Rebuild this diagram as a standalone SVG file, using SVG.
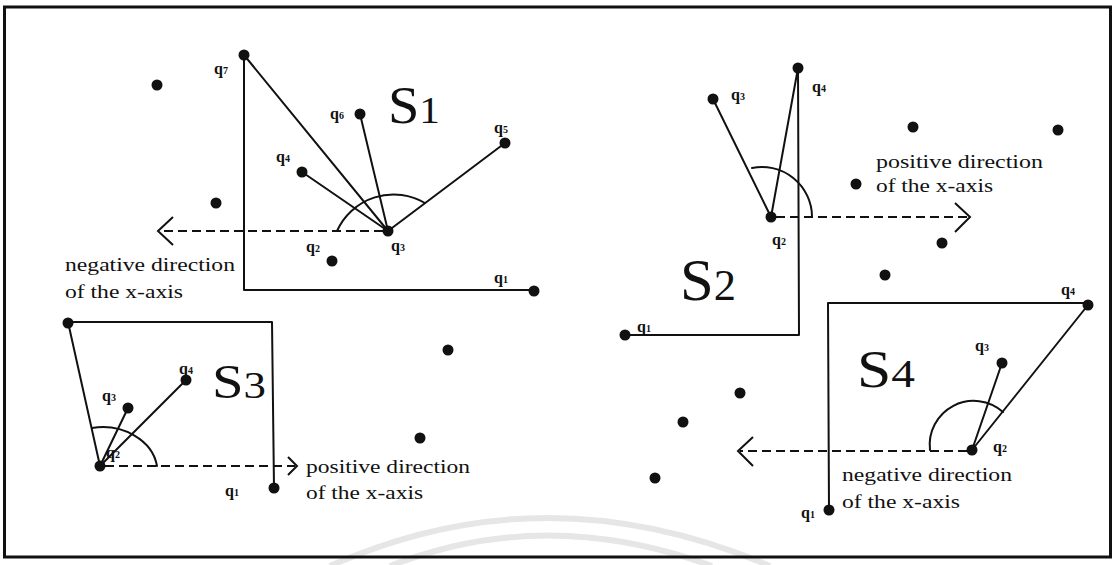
<svg xmlns="http://www.w3.org/2000/svg" width="1118" height="565" viewBox="0 0 1118 565">
<style>
.ln{stroke:#111;stroke-width:2;fill:none;stroke-linecap:round;stroke-linejoin:round}
.ds{stroke:#111;stroke-width:2;fill:none;stroke-dasharray:9 5}
.ch{stroke:#111;stroke-width:2;fill:none;stroke-linejoin:miter}
.dot{fill:#111}
.ql{font-family:"Liberation Serif",serif;font-weight:bold;font-size:16px;fill:#111}
.ql tspan{font-size:10px}
.tx{font-family:"Liberation Serif",serif;font-size:18px;fill:#111}
.big{font-family:"Liberation Serif",serif;fill:#111}
.wm{stroke:#e6e6e6;stroke-width:6;fill:none}
</style>
<rect width="1118" height="565" fill="#fff"/>
<g id="watermark">
<path class="wm" d="M 330 566 Q 545 470 770 566"/>
<path class="wm" d="M 390 566 Q 545 505 712 566"/>
</g>
<rect x="4.5" y="7" width="1106" height="550" fill="none" stroke="#111" stroke-width="3"/>
<g id="connectors">
<!-- S1 -->
<polyline class="ln" points="244,55 244,290 534,290"/>
<line class="ln" x1="388" y1="231" x2="244" y2="55"/>
<line class="ln" x1="388" y1="231" x2="360" y2="114"/>
<line class="ln" x1="388" y1="231" x2="302" y2="172"/>
<line class="ln" x1="388" y1="231" x2="505" y2="143"/>
<path class="ln" d="M 337 231 A 62 62 0 0 1 425 203"/>
<line class="ds" x1="383" y1="231" x2="160" y2="231"/>
<polyline class="ch" points="173,217 158,231 173,245"/>
<!-- S2 -->
<polyline class="ln" points="798,68 799,335 625,335"/>
<line class="ln" x1="771" y1="217" x2="713" y2="99"/>
<line class="ln" x1="771" y1="217" x2="798" y2="68"/>
<path class="ln" d="M 752 168 A 50 50 0 0 1 812 216"/>
<line class="ds" x1="776" y1="217" x2="968" y2="217"/>
<polyline class="ch" points="955,203 970,217 955,232"/>
<!-- S3 -->
<polyline class="ln" points="274,488 272,322 68,322 100,466"/>
<line class="ln" x1="100" y1="466" x2="128" y2="408"/>
<line class="ln" x1="100" y1="466" x2="186" y2="380"/>
<path class="ln" d="M 92 428 A 55 45 0 0 1 157 466"/>
<line class="ds" x1="105" y1="466" x2="295" y2="466"/>
<polyline class="ch" points="288,457 297,466 288,475"/>
<!-- S4 -->
<polyline class="ln" points="829,510 828,303 1088,303"/>
<line class="ln" x1="972" y1="450" x2="1002" y2="363"/>
<line class="ln" x1="972" y1="450" x2="1088" y2="305"/>
<path class="ln" d="M 930 450 A 44 44 0 0 1 1003 412"/>
<line class="ds" x1="967" y1="451" x2="740" y2="451"/>
<polyline class="ch" points="753,437 738,451 753,466"/>
</g>
<g id="S1">
<g id="s1-q7"><circle class="dot" cx="244" cy="55" r="5.5"/><text class="ql" x="214" y="74">q<tspan>7</tspan></text></g>
<g id="s1-q6"><circle class="dot" cx="360" cy="114" r="5.5"/><text class="ql" x="330" y="119">q<tspan>6</tspan></text></g>
<g id="s1-q5"><circle class="dot" cx="505" cy="143" r="5.5"/><text class="ql" x="494" y="133">q<tspan>5</tspan></text></g>
<g id="s1-q4"><circle class="dot" cx="302" cy="172" r="5.5"/><text class="ql" x="276" y="162">q<tspan>4</tspan></text></g>
<g id="s1-q3"><circle class="dot" cx="388" cy="231" r="5.5"/><text class="ql" x="391" y="251">q<tspan>3</tspan></text></g>
<g id="s1-q2"><circle class="dot" cx="332" cy="261" r="5.5"/><text class="ql" x="306" y="252">q<tspan>2</tspan></text></g>
<g id="s1-q1"><circle class="dot" cx="534" cy="291" r="5.5"/><text class="ql" x="494" y="283">q<tspan>1</tspan></text></g>
<g id="s1-p1"><circle class="dot" cx="157" cy="85" r="5.5"/></g>
<g id="s1-p2"><circle class="dot" cx="216" cy="203" r="5.5"/></g>
<text class="big" x="388" y="123" font-size="52" textLength="52" lengthAdjust="spacingAndGlyphs">S<tspan font-size="38">1</tspan></text>
<text class="tx" x="65" y="271" textLength="170" lengthAdjust="spacingAndGlyphs">negative direction</text>
<text class="tx" x="65" y="298" textLength="118" lengthAdjust="spacingAndGlyphs">of the x-axis</text>
</g>
<g id="S2">
<g id="s2-q4"><circle class="dot" cx="798" cy="68" r="5.5"/><text class="ql" x="812" y="92">q<tspan>4</tspan></text></g>
<g id="s2-q3"><circle class="dot" cx="713" cy="99" r="5.5"/><text class="ql" x="731" y="100">q<tspan>3</tspan></text></g>
<g id="s2-q2"><circle class="dot" cx="771" cy="217" r="5.5"/><text class="ql" x="772" y="245">q<tspan>2</tspan></text></g>
<g id="s2-q1"><circle class="dot" cx="625" cy="335" r="5.5"/><text class="ql" x="637" y="332">q<tspan>1</tspan></text></g>
<g id="s2-p1"><circle class="dot" cx="913" cy="127" r="5.5"/></g>
<g id="s2-p2"><circle class="dot" cx="856" cy="184" r="5.5"/></g>
<g id="s2-p3"><circle class="dot" cx="1058" cy="130" r="5.5"/></g>
<g id="s2-p4"><circle class="dot" cx="942" cy="243" r="5.5"/></g>
<g id="s2-p5"><circle class="dot" cx="885" cy="275" r="5.5"/></g>
<text class="big" x="680" y="300" font-size="60" textLength="56" lengthAdjust="spacingAndGlyphs">S<tspan font-size="44">2</tspan></text>
<text class="tx" x="876" y="168" textLength="167" lengthAdjust="spacingAndGlyphs">positive direction</text>
<text class="tx" x="876" y="192" textLength="117" lengthAdjust="spacingAndGlyphs">of the x-axis</text>
</g>
<g id="S3">
<g id="s3-q5"><circle class="dot" cx="68" cy="323" r="5.5"/></g>
<g id="s3-q4"><circle class="dot" cx="186" cy="380" r="5.5"/><text class="ql" x="179" y="374">q<tspan>4</tspan></text></g>
<g id="s3-q3"><circle class="dot" cx="128" cy="408" r="5.5"/><text class="ql" x="102" y="401">q<tspan>3</tspan></text></g>
<g id="s3-q2"><circle class="dot" cx="100" cy="466" r="5.5"/><text class="ql" x="106" y="458">q<tspan>2</tspan></text></g>
<g id="s3-q1"><circle class="dot" cx="274" cy="488" r="5.5"/><text class="ql" x="225" y="496">q<tspan>1</tspan></text></g>
<g id="s3-p1"><circle class="dot" cx="448" cy="350" r="5.5"/></g>
<g id="s3-p2"><circle class="dot" cx="420" cy="438" r="5.5"/></g>
<text class="big" x="212" y="398" font-size="48" textLength="54" lengthAdjust="spacingAndGlyphs">S<tspan font-size="38">3</tspan></text>
<text class="tx" x="306" y="473" textLength="164" lengthAdjust="spacingAndGlyphs">positive direction</text>
<text class="tx" x="306" y="499" textLength="117" lengthAdjust="spacingAndGlyphs">of the x-axis</text>
</g>
<g id="S4">
<g id="s4-q4"><circle class="dot" cx="1088" cy="305" r="5.5"/><text class="ql" x="1061" y="295">q<tspan>4</tspan></text></g>
<g id="s4-q3"><circle class="dot" cx="1002" cy="363" r="5.5"/><text class="ql" x="975" y="351">q<tspan>3</tspan></text></g>
<g id="s4-q2"><circle class="dot" cx="972" cy="450" r="5.5"/><text class="ql" x="993" y="452">q<tspan>2</tspan></text></g>
<g id="s4-q1"><circle class="dot" cx="829" cy="510" r="5.5"/><text class="ql" x="801" y="518">q<tspan>1</tspan></text></g>
<g id="s4-p1"><circle class="dot" cx="740" cy="393" r="5.5"/></g>
<g id="s4-p2"><circle class="dot" cx="683" cy="422" r="5.5"/></g>
<g id="s4-p3"><circle class="dot" cx="655" cy="478" r="5.5"/></g>
<text class="big" x="857" y="387" font-size="52" textLength="58" lengthAdjust="spacingAndGlyphs">S<tspan font-size="40">4</tspan></text>
<text class="tx" x="842" y="481" textLength="170" lengthAdjust="spacingAndGlyphs">negative direction</text>
<text class="tx" x="842" y="508" textLength="118" lengthAdjust="spacingAndGlyphs">of the x-axis</text>
</g>
</svg>
